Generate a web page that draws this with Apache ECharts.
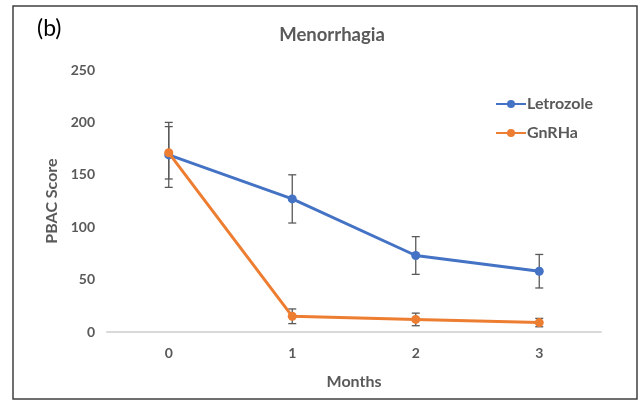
<!DOCTYPE html>
<html>
<head>
<meta charset="utf-8">
<style>
  html, body { margin: 0; padding: 0; background: #fff; }
  #chart { width: 640px; height: 402px; }
</style>
<script src="https://cdn.jsdelivr.net/npm/echarts@6/dist/echarts.min.js"></script>
</head>
<body>
<div id="chart"></div>
<script>
// Months after start of treatment
const months = ['0', '1', '2', '3'];
// Mean PBAC scores
const letrozole = [169, 127, 73, 58];
const gnrha = [171, 15, 12, 9];
// Error bar half-widths (±)
const letrozoleErr = [31, 23, 18, 16];
const gnrhaErr = [25, 7, 6, 4];
// Y axis ticks
const yMin = 0, yMax = 250, yStep = 50;

const BLUE = '#4472C4';
const ORANGE = '#ED7D31';
const TXT = '#595959';
const FONT = 'Lato';

function errorData(values, errs) {
  return values.map((v, i) => [i, v - errs[i], v + errs[i]]);
}

function errorBarSeries(name, values, errs) {
  return {
    type: 'custom',
    name: name + ' error',
    z: 1,
    silent: true,
    data: errorData(values, errs),
    encode: { x: 0, y: [1, 2] },
    renderItem: function (params, api) {
      const lo = api.coord([api.value(0), api.value(1)]);
      const hi = api.coord([api.value(0), api.value(2)]);
      const half = 4;
      const style = { stroke: '#595959', lineWidth: 1.3 };
      return {
        type: 'group',
        children: [
          { type: 'line', shape: { x1: lo[0], y1: lo[1], x2: hi[0], y2: hi[1] }, style: style },
          { type: 'line', shape: { x1: lo[0] - half, y1: lo[1], x2: lo[0] + half, y2: lo[1] }, style: style },
          { type: 'line', shape: { x1: hi[0] - half, y1: hi[1], x2: hi[0] + half, y2: hi[1] }, style: style }
        ]
      };
    }
  };
}

const chart = echarts.init(document.getElementById('chart'), null, { renderer: 'canvas' });

chart.setOption({
  animation: false,
  backgroundColor: '#fff',
  graphic: [
    {
      type: 'rect',
      shape: { x: 13, y: 6, width: 624, height: 393 },
      style: { fill: 'none', stroke: '#404040', lineWidth: 1.5 },
      z: 0
    },
    {
      type: 'text',
      left: 37, top: 17,
      style: { text: '(b)', font: '23px ' + FONT, fill: '#000' }
    }
  ],
  title: {
    text: 'Menorrhagia',
    left: 327,
    top: 21,
    textAlign: 'center',
    textStyle: { fontFamily: FONT, fontWeight: 'bold', fontSize: 18.5, color: TXT }
  },
  legend: {
    orient: 'vertical',
    left: 490,
    top: 91,
    itemGap: 13,
    itemWidth: 30,
    itemHeight: 10,
    data: ['Letrozole', 'GnRHa'],
    textStyle: { fontFamily: FONT, fontWeight: 'bold', fontSize: 16, color: TXT, padding: [0, 0, 0, -4] }
  },
  grid: { left: 107, right: 39, top: 70, bottom: 70 },
  xAxis: {
    type: 'category',
    data: months,
    boundaryGap: true,
    name: 'Months',
    nameLocation: 'middle',
    nameGap: 42,
    nameTextStyle: { fontFamily: FONT, fontWeight: 'bold', fontSize: 16, color: TXT },
    axisLine: { lineStyle: { color: '#d9d9d9', width: 2 } },
    axisTick: { show: false },
    axisLabel: { fontFamily: FONT, fontWeight: 'bold', fontSize: 14, color: TXT, margin: 14 }
  },
  yAxis: {
    type: 'value',
    min: yMin, max: yMax, interval: yStep,
    name: 'PBAC Score',
    nameLocation: 'middle',
    nameGap: 47,
    nameTextStyle: { fontFamily: FONT, fontWeight: 'bold', fontSize: 16, color: TXT },
    axisLine: { show: false },
    axisTick: { show: false },
    splitLine: { show: false },
    axisLabel: { fontFamily: FONT, fontWeight: 'bold', fontSize: 14, color: TXT, margin: 12 }
  },
  series: [
    errorBarSeries('Letrozole', letrozole, letrozoleErr),
    errorBarSeries('GnRHa', gnrha, gnrhaErr),
    {
      name: 'Letrozole',
      type: 'line',
      data: letrozole,
      z: 3,
      symbol: 'circle',
      symbolSize: 9,
      color: BLUE,
      lineStyle: { width: 3, color: BLUE },
      itemStyle: { color: BLUE }
    },
    {
      name: 'GnRHa',
      type: 'line',
      data: gnrha,
      z: 4,
      symbol: 'circle',
      symbolSize: 9,
      color: ORANGE,
      lineStyle: { width: 3, color: ORANGE },
      itemStyle: { color: ORANGE }
    }
  ]
});
</script>
</body>
</html>
